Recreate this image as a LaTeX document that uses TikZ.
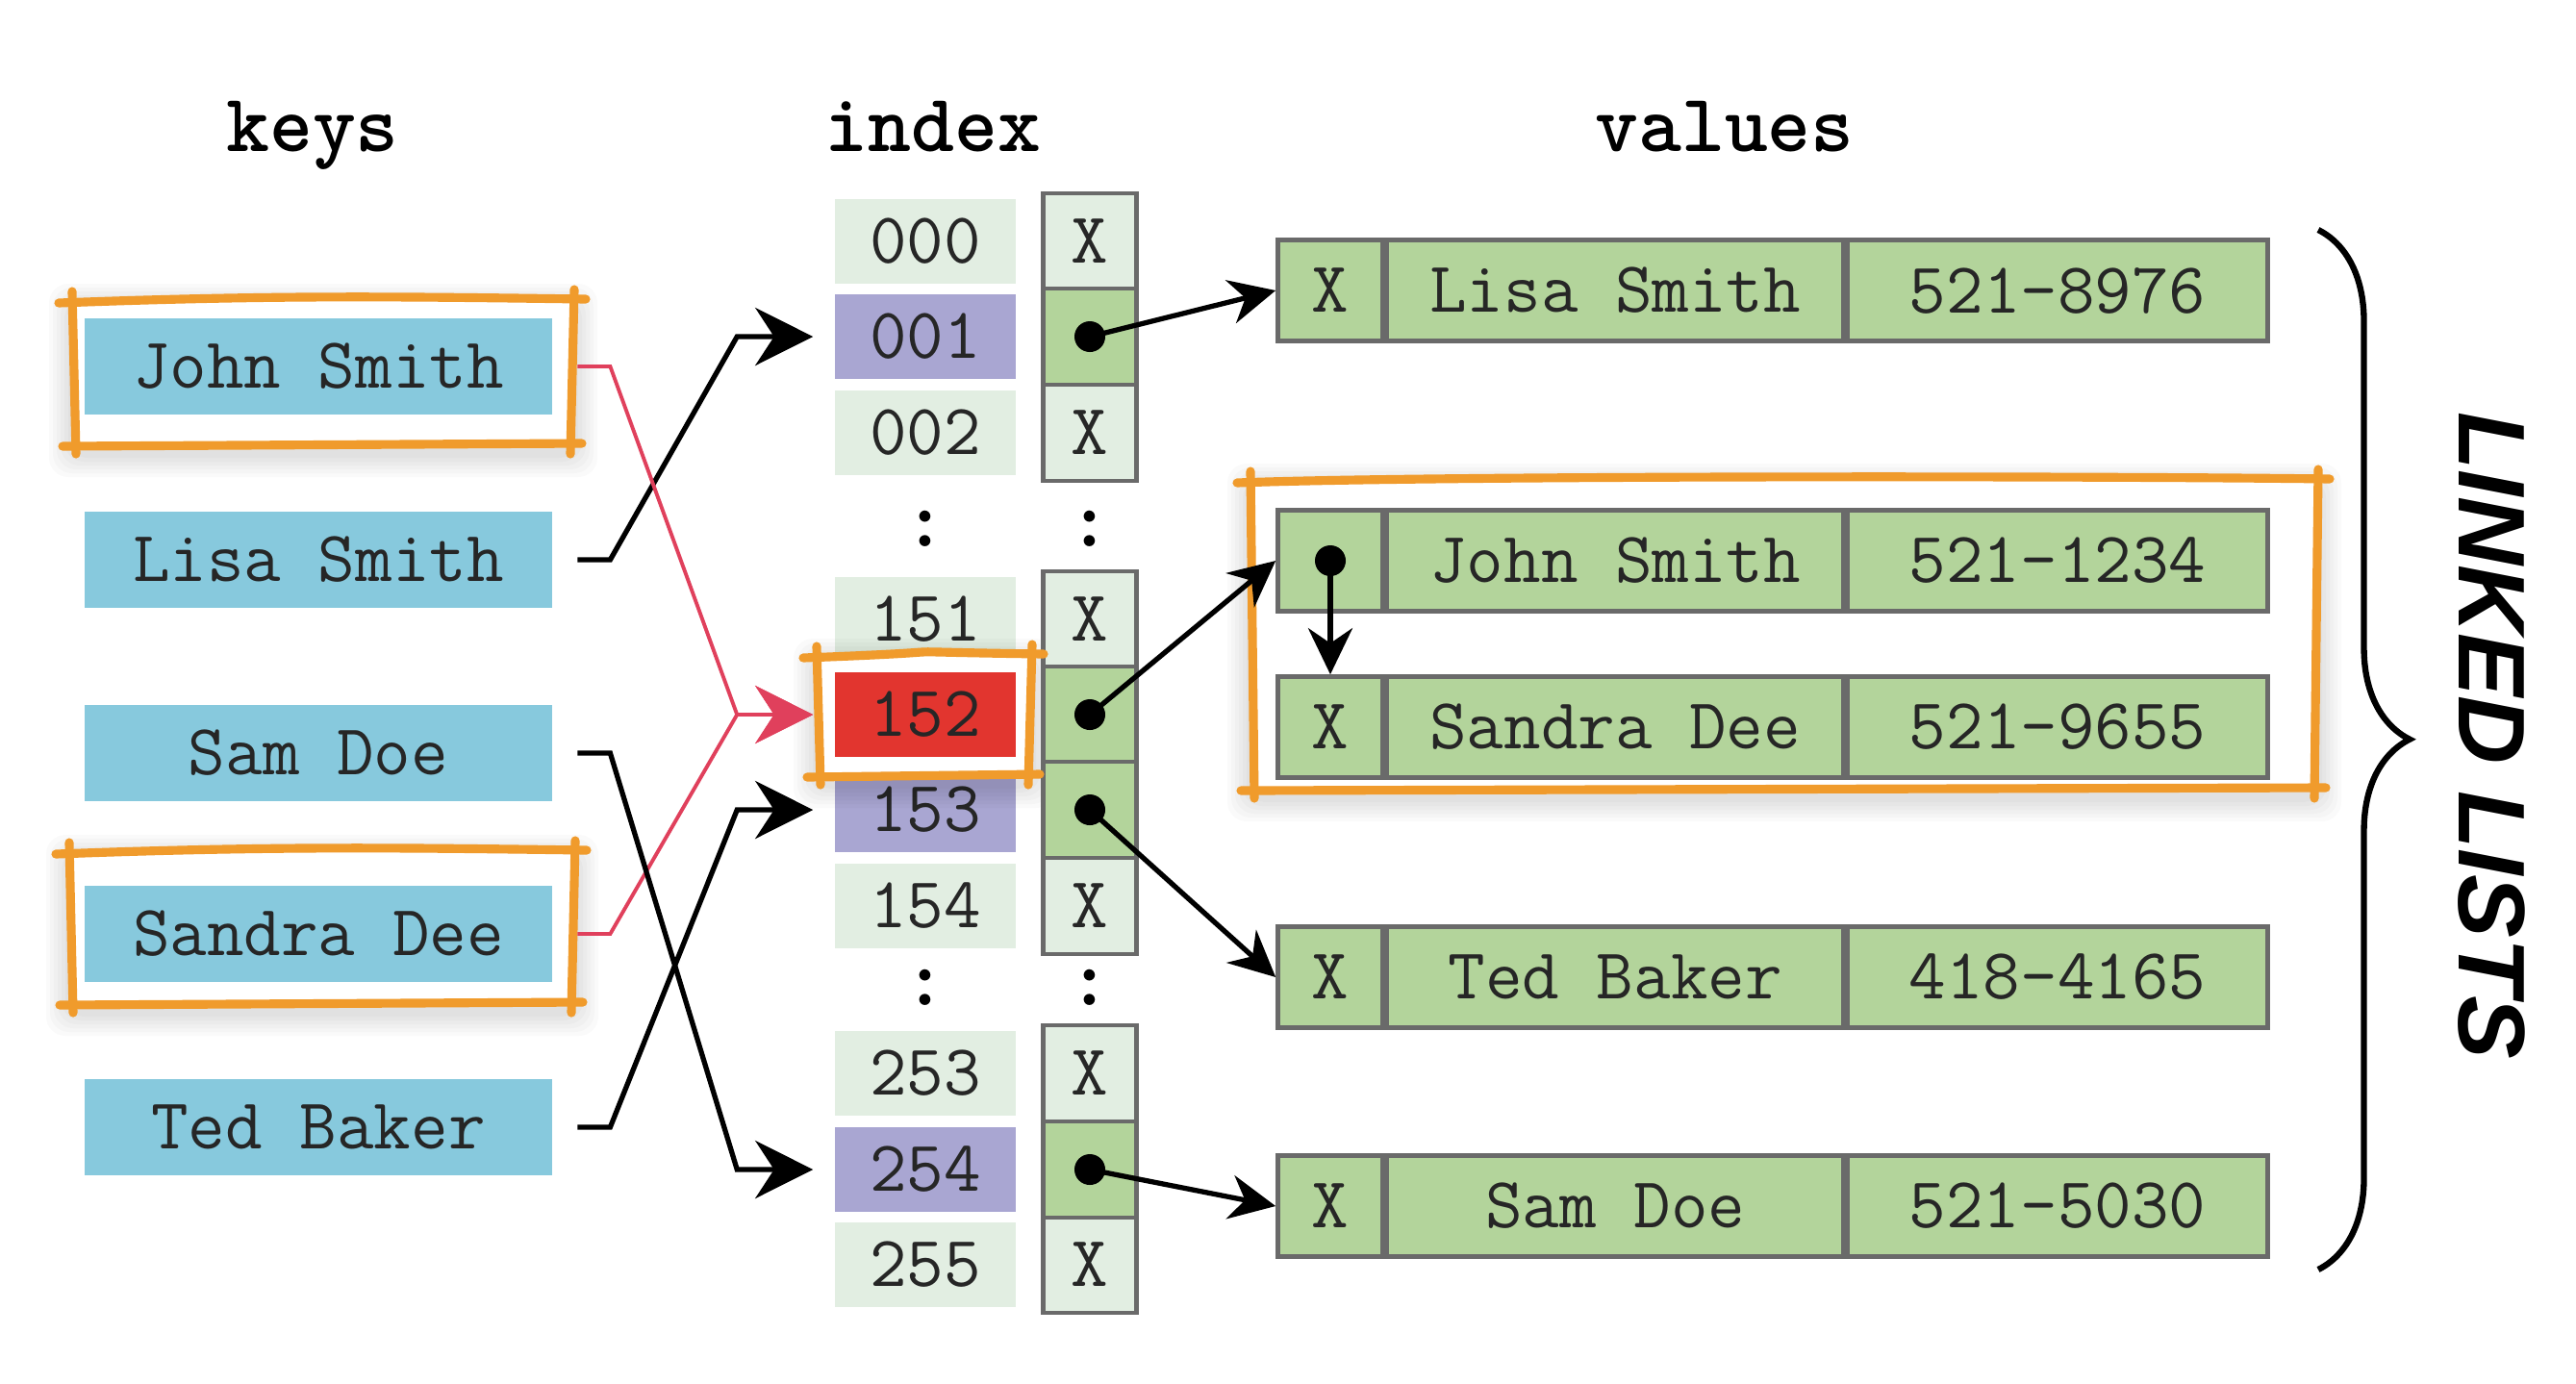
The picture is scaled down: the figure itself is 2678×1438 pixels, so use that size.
\documentclass[tikz,border=0pt]{standalone}
\usepackage{fontspec}
\usepackage{tikz}
\usetikzlibrary{positioning}
\usetikzlibrary{arrows.meta}
\usetikzlibrary{calc}
\usetikzlibrary{decorations.pathreplacing}

\newfontfamily\linkfont{Liberation Sans}

\definecolor{keyblue}{HTML}{87C9DD}
\definecolor{idxgray}{HTML}{E2EEE2}
\definecolor{idxpurple}{HTML}{A9A6D2}
\definecolor{idxred}{HTML}{E2352F}
\definecolor{valgreen}{HTML}{B3D49B}
\definecolor{cellline}{HTML}{6A6A6A}
\definecolor{hiorange}{HTML}{F09B2C}
\definecolor{hashred}{HTML}{E0405C}

\tikzset{
  bigtt/.style={font=\ttfamily\fontsize{21.3}{24}\selectfont, text=black!85},
  coltitle/.style={font=\ttfamily\bfseries\fontsize{24.3}{27}\selectfont},
  vdots/.style={coltitle, inner sep=0pt},
  keybox/.style={bigtt, fill=keyblue, minimum width=4.85cm, minimum height=0.99cm, inner sep=0pt},
  idxcell/.style={bigtt, minimum width=1.88cm, minimum height=0.88cm, inner sep=0pt},
  ptrcell/.style={bigtt, draw=cellline, line width=1.2pt, fill=idxgray, minimum width=0.97cm, minimum height=0.995cm, inner sep=0pt},
  valcell/.style={bigtt, draw=cellline, line width=1.3pt, fill=valgreen, minimum height=1.05cm, inner sep=0pt},
  keyline/.style={line width=1.5pt, -{Stealth[length=0.6cm, width=0.6cm]}},
  ptr/.style={line width=1.5pt, -{Stealth[length=0.48cm, width=0.46cm]}},
  sketch/.style={hiorange, line width=2.6pt, line cap=round},
}

% soft shadow and white card under a highlight: left, top, right, bottom
\newcommand{\sketchcard}[4]{%
  \foreach \s in {4,8,...,24}
    \fill[black, opacity=0.018, rounded corners=0.2cm] (#1-\s,#2-\s+8) rectangle (#3+\s,#4+\s+8);
  \fill[white] (#1,#2) rectangle (#3,#4);
}
% hand drawn highlight: left, top, right, bottom
\newcommand{\sketchbox}[4]{%
  \draw[sketch] (#1-14,#2+4) .. controls (#1+200,#2-4) and (#3-200,#2-3) .. (#3+12,#2);
  \draw[sketch] (#1-10,#4) -- (#3+8,#4-3);
  \draw[sketch] (#1,#2-8) -- (#1+4,#4+8);
  \draw[sketch] (#3,#2-10) -- (#3-4,#4+8);
}

\begin{document}
\begin{tikzpicture}[x=0.01cm, y=-0.01cm]
  \useasboundingbox (0,0) rectangle (2678,1438);

  \node[coltitle, anchor=base] (tkeys) at (325,157) {keys};
  \node[coltitle, anchor=base] (tindex) at (970,157) {index};
  \node[coltitle, anchor=base] (tvalues) at (1793,157) {values};

  % keys
  \sketchcard{75}{311}{597}{464}
  \sketchcard{72}{884}{598}{1045}
  \foreach \k/\y/\t in {kjohn/381/John Smith, klisa/582/Lisa Smith, ksam/783/Sam Doe, ksandra/971/Sandra Dee, kted/1172/Ted Baker}
    \node[keybox] (\k) at (331,\y) {\t};

  % index column
  \foreach \n/\y/\c in {000/251/idxgray, 001/350/idxpurple, 002/450/idxgray, 151/644/idxgray, 153/842/idxpurple, 154/942/idxgray, 253/1116/idxgray, 254/1216/idxpurple, 255/1315/idxgray}
    \node[idxcell, fill=\c] (i\n) at (962,\y) {\n};
  \sketchcard{849}{680}{1073}{808}
  \node[idxcell, fill=idxred] (i152) at (962,743) {152};

  % pointer column
  \foreach \n/\y in {000/251, 002/450, 151/644, 154/942, 253/1116, 255/1315}
    \node[ptrcell] (p\n) at (1133,\y) {X};
  \foreach \n/\y in {001/350, 152/743, 153/842, 254/1216}
    \node[ptrcell, fill=valgreen] (p\n) at (1133,\y) {};
  \foreach \n in {001,152,153,254}
    \fill (p\n.center) circle (0.16cm);

  \node[vdots] (idots1) at (962,550) {:};
  \node[vdots] (pdots1) at (1133,550) {:};
  \node[vdots] (idots2) at (962,1027) {:};
  \node[vdots] (pdots2) at (1133,1027) {:};

  % values
  \sketchcard{1300}{498}{2410}{822}
  \foreach \r/\y/\p/\nm/\num in {lisa/302/X/Lisa Smith/521-8976, john/583/{}/John Smith/521-1234, sandra/756/X/Sandra Dee/521-9655, ted/1016/X/Ted Baker/418-4165, sam/1254/X/Sam Doe/521-5030} {
    \node[valcell, minimum width=1.09cm] (v\r) at (1383,\y) {\p};
    \node[valcell, minimum width=4.74cm, right=0pt of v\r] (n\r) {\nm};
    \node[valcell, minimum width=4.36cm, right=0pt of n\r] (t\r) {\num};
  }

  % highlights
  \sketchbox{75}{311}{597}{464}
  \sketchbox{72}{884}{598}{1045}
  \sketchbox{849}{680}{1073}{808}
  \sketchbox{1300}{498}{2410}{822}

  % hashing
  \draw[keyline] ([xshift=0.26cm]klisa.east) -- ++(0.34cm,0) -- ($(i001.west)+(-101,0)$) -- ([xshift=-0.22cm]i001.west);
  \draw[keyline, hashred, line width=1.1pt] ([xshift=0.26cm]kjohn.east) -- ++(0.34cm,0) -- ($(i152.west)+(-101,0)$) -- ([xshift=-0.22cm]i152.west);
  \draw[keyline, hashred, line width=1.1pt] ([xshift=0.26cm]ksandra.east) -- ++(0.34cm,0) -- ($(i152.west)+(-101,0)$) -- ([xshift=-0.22cm]i152.west);
  \draw[keyline] ([xshift=0.26cm]ksam.east) -- ++(0.34cm,0) -- ($(i254.west)+(-101,0)$) -- ([xshift=-0.22cm]i254.west);
  \draw[keyline] ([xshift=0.26cm]kted.east) -- ++(0.34cm,0) -- ($(i153.west)+(-101,0)$) -- ([xshift=-0.22cm]i153.west);

  % buckets
  \draw[ptr] (p001.center) -- (vlisa.west);
  \draw[ptr] (p152.center) -- (vjohn.west);
  \draw[ptr] (p153.center) -- (vted.west);
  \draw[ptr] (p254.center) -- (vsam.west);
  \fill (vjohn.center) circle (0.16cm);
  \draw[ptr] (vjohn.center) -- (vsandra.north);

  \draw[line width=1.8pt, decorate, decoration={brace, amplitude=0.95cm, aspect=0.49}] (2410,239) -- (2410,1320);
  \node[rotate=-90, font=\linkfont\bfseries\itshape\fontsize{28}{28}\selectfont] (llists) at (2590,765) {LINKED LISTS};
\end{tikzpicture}
\end{document}
